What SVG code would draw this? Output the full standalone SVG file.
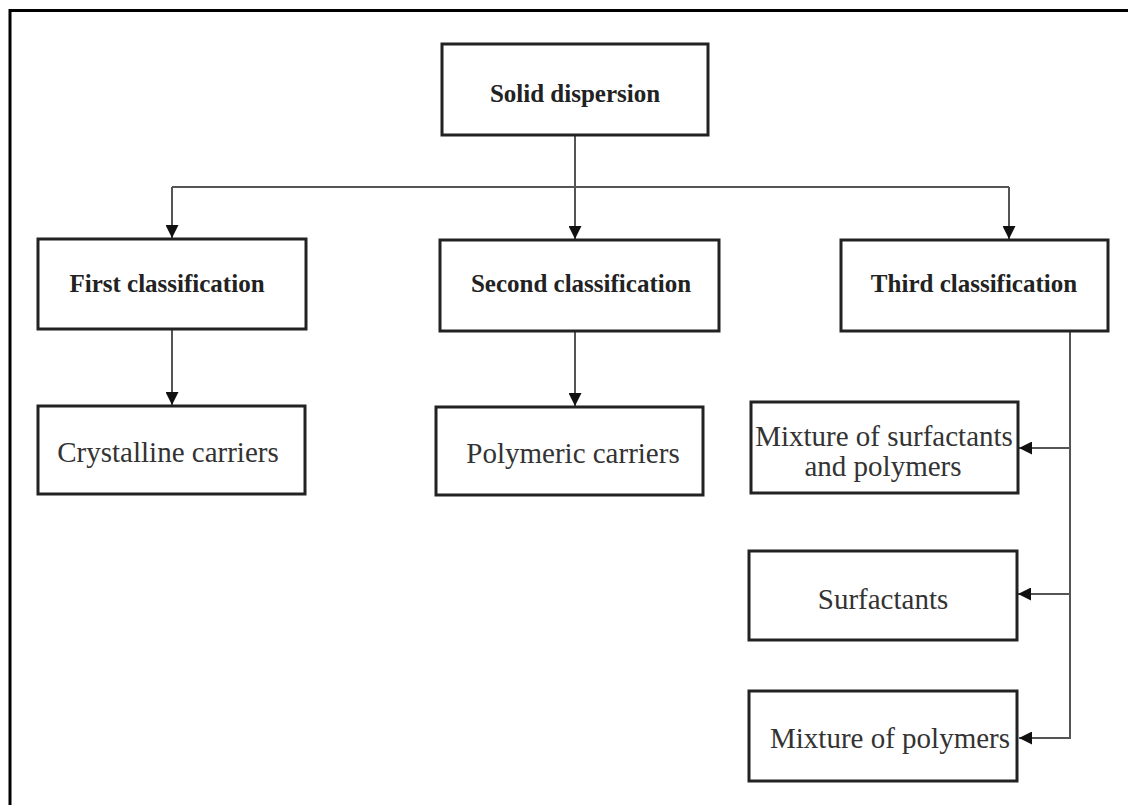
<svg xmlns="http://www.w3.org/2000/svg" width="1128" height="805" viewBox="0 0 1128 805">
<style>
.box{fill:#fff;stroke:#222;stroke-width:3}
.con{fill:none;stroke:#555;stroke-width:2}
.b{font-family:"Liberation Serif",serif;font-weight:bold;font-size:25px;fill:#222;text-anchor:middle}
.r{font-family:"Liberation Serif",serif;font-size:29px;fill:#333;text-anchor:middle}
</style>
<defs>
<marker id="ah" viewBox="0 0 10 10" refX="10" refY="5" markerWidth="13" markerHeight="13" markerUnits="userSpaceOnUse" orient="auto">
<path d="M0,0 L10,5 L0,10 Z" fill="#111"/>
</marker>
</defs>
<rect width="1128" height="805" fill="#fff"/>
<path d="M10,805 V10.5 H1128" fill="none" stroke="#000" stroke-width="3"/>
<g id="connectors">
<path class="con" d="M575,135 V187"/>
<path class="con" d="M172,187 H1009"/>
<path class="con" d="M172,187 V238" marker-end="url(#ah)"/>
<path class="con" d="M575,187 V239" marker-end="url(#ah)"/>
<path class="con" d="M1009,187 V239" marker-end="url(#ah)"/>
<path class="con" d="M172,329 V405" marker-end="url(#ah)"/>
<path class="con" d="M575,331 V406" marker-end="url(#ah)"/>
<path class="con" d="M1070,331 V738 H1019" marker-end="url(#ah)"/>
<path class="con" d="M1070,448 H1019" marker-end="url(#ah)"/>
<path class="con" d="M1070,594 H1018" marker-end="url(#ah)"/>
</g>
<g id="solid-dispersion">
<rect class="box" x="442" y="44" width="266" height="91"/>
<text class="b" x="575" y="102" font-size="27">Solid dispersion</text>
</g>
<g id="first-classification">
<rect class="box" x="38" y="239" width="268" height="90"/>
<text class="b" x="167" y="292">First classification</text>
</g>
<g id="second-classification">
<rect class="box" x="440" y="240" width="279" height="91"/>
<text class="b" x="581" y="292">Second classification</text>
</g>
<g id="third-classification">
<rect class="box" x="841" y="240" width="267" height="91"/>
<text class="b" x="974" y="292">Third classification</text>
</g>
<g id="crystalline-carriers">
<rect class="box" x="38" y="406" width="267" height="88"/>
<text class="r" x="168" y="462">Crystalline carriers</text>
</g>
<g id="polymeric-carriers">
<rect class="box" x="436" y="407" width="267" height="88"/>
<text class="r" x="573" y="463">Polymeric carriers</text>
</g>
<g id="mixture-surfactants-polymers">
<rect class="box" x="751" y="402" width="267" height="91"/>
<text class="r" x="884" y="446">Mixture of surfactants</text>
<text class="r" x="883" y="476">and polymers</text>
</g>
<g id="surfactants">
<rect class="box" x="749" y="551" width="268" height="89"/>
<text class="r" x="883" y="609">Surfactants</text>
</g>
<g id="mixture-polymers">
<rect class="box" x="749" y="691" width="268" height="90"/>
<text class="r" x="890" y="748">Mixture of polymers</text>
</g>
</svg>
